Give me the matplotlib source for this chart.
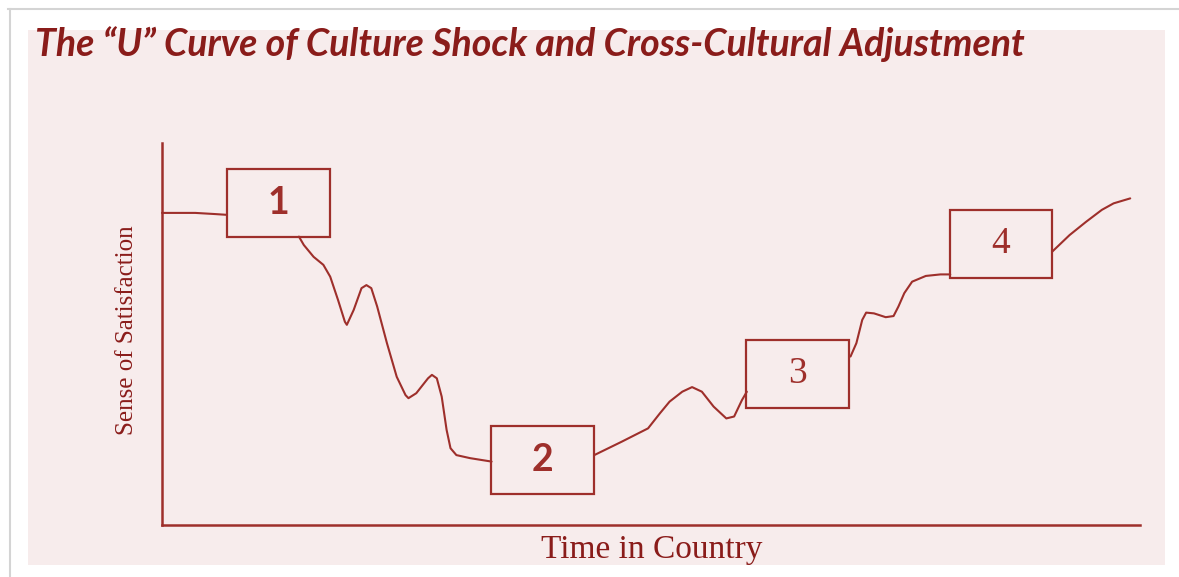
import matplotlib.pyplot as plt
from matplotlib.patches import Rectangle

W, H = 1179, 577

# curve: time in country (0-100) vs sense of satisfaction (0-100)
lead_time = [0, 3.4, 5.4, 6.6]
lead_level = [81.7, 81.7, 81.4, 81.2]

shock_time = [14.0, 14.5, 15.5, 16.5, 17.2, 18.0, 18.7, 18.9, 19.6, 20.4, 20.9, 21.4, 22.0,
              23.0, 24.0, 24.9, 25.2, 26.0, 27.2, 27.6, 28.1, 28.6, 29.1, 29.5, 30.1, 31.5, 33.7]
shock_level = [75.5, 73.3, 70.2, 68.1, 65.0, 58.9, 53.2, 52.4, 56.3, 62.0, 62.8, 62.0, 57.2,
               47.6, 38.8, 34.0, 33.2, 34.5, 38.4, 39.3, 38.4, 33.6, 24.9, 20.1, 18.3, 17.5, 16.6]

recover_time = [44.2, 47.0, 49.7, 50.9, 51.9, 53.2, 54.2, 55.2, 56.4, 57.7, 58.5, 59.3, 59.8]
recover_level = [18.3, 21.8, 25.3, 29.2, 32.3, 34.9, 36.1, 34.9, 31.0, 27.9, 28.4, 32.7, 34.9]

adjust_time = [70.4, 71.0, 71.6, 72.0, 72.8, 74.0, 74.8, 75.3, 75.9, 76.7, 78.1, 79.6, 80.6]
adjust_level = [44.1, 47.6, 53.7, 55.6, 55.4, 54.4, 54.7, 57.2, 60.7, 63.7, 65.2, 65.6, 65.6]

master_time = [91.0, 92.8, 94.5, 96.1, 97.3, 99.0]
master_level = [71.5, 75.9, 79.4, 82.5, 84.2, 85.5]

stage_labels = ['1', '2', '3', '4']
stage_time = [11.9, 38.9, 65.0, 85.8]
stage_level = [84.4, 17.0, 39.5, 73.6]

title = 'The \u201cU\u201d Curve of Culture Shock and Cross-Cultural Adjustment'
xlabel = 'Time in Country'
ylabel = 'Sense of Satisfaction'

red = '#9e2f2b'
dark_red = '#8a1c1a'
pink = '#f7ecec'

fig = plt.figure(figsize=(W / 100, H / 100), dpi=100)
fig.patch.set_facecolor('white')

# page card behind the chart
bg = fig.add_axes([0, 0, 1, 1])
bg.set_xlim(0, W)
bg.set_ylim(H, 0)
bg.axis('off')
bg.add_patch(Rectangle((28, 30), 1137, 535, facecolor=pink, edgecolor='none'))
bg.plot([8, W], [9, 9], color='#d4d4d4', lw=1.5)
bg.plot([10, 10], [9, H], color='#d4d4d4', lw=1.5)

ax = fig.add_axes([162 / W, (H - 525) / H, 978 / W, 382 / H])
ax.set_facecolor('none')
ax.set_xlim(0, 100)
ax.set_ylim(0, 100)
ax.set_xticks([])
ax.set_yticks([])
for side in ['top', 'right']:
    ax.spines[side].set_visible(False)
for side in ['left', 'bottom']:
    ax.spines[side].set_color(red)
    ax.spines[side].set_linewidth(1.8)

for xs, ys in [(lead_time, lead_level), (shock_time, shock_level),
               (recover_time, recover_level), (adjust_time, adjust_level),
               (master_time, master_level)]:
    ax.plot(xs, ys, color=red, lw=1.5, solid_capstyle='round',
            solid_joinstyle='round', clip_on=False)

box_w, box_h = 10.5, 17.8
number_fonts = ['Lato', 'Lato', 'Liberation Serif', 'Liberation Serif']
for lab, t, s, fam in zip(stage_labels, stage_time, stage_level, number_fonts):
    ax.add_patch(Rectangle((t - box_w / 2, s - box_h / 2), box_w, box_h,
                           facecolor='none', edgecolor=red, lw=1.6))
    ax.text(t, s, lab, fontsize=27, family=fam, color=red,
            weight='bold' if fam == 'Lato' else 'normal', ha='center', va='center')

fig.text(35 / W, 1 - 44 / H, title, fontsize=27, family='Lato', style='italic',
         weight='bold', color=dark_red, ha='left', va='center')
fig.text(652 / W, 1 - 550 / H, xlabel, fontsize=24, family='Liberation Serif',
         color=dark_red, ha='center', va='center')
fig.text(127 / W, 1 - 330 / H, ylabel, fontsize=18, family='Liberation Serif',
         color=dark_red, ha='center', va='center', rotation=90)

fig.savefig('out.png', dpi=100)
